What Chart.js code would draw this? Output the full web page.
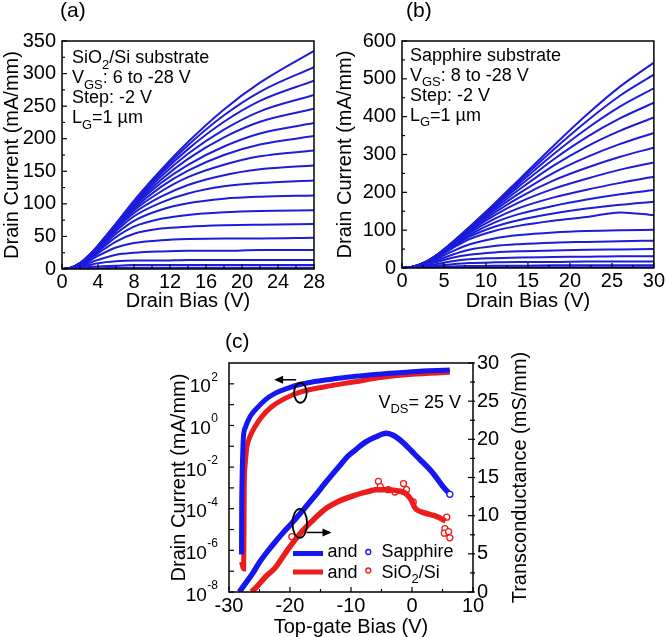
<!DOCTYPE html>
<html>
<head>
<meta charset="utf-8">
<script src="https://cdn.jsdelivr.net/npm/chart.js@4.4.0/dist/chart.umd.min.js"></script>
<style>
  body { margin: 0; background: #fff; width: 666px; height: 637px; overflow: hidden; position: relative; }
  canvas { position: absolute; }
</style>
</head>
<body>
<canvas id="chartA" width="333" height="313" style="left:0;top:0"></canvas>
<canvas id="chartB" width="333" height="313" style="left:333px;top:0"></canvas>
<canvas id="chartC" width="666" height="329" style="left:0;top:310px"></canvas>
<script>
// ---- (a) SiO2/Si substrate, VGS 6 to -28 V, step -2 V
const biasA = [0, 1, 2, 3, 4, 6, 8, 11, 14, 18, 22, 28];
const currentA = [
  [0, 2, 9, 21, 36, 70, 105, 152, 195, 245, 286, 335],
  [0, 2, 9, 21, 36, 69, 103, 149, 190, 236, 272, 310],
  [0, 2, 9, 21, 36, 69, 102, 146, 184, 226, 258, 289],
  [0, 2, 9, 20, 35, 68, 100, 142, 177, 214, 242, 267],
  [0, 2, 9, 20, 35, 67, 98, 137, 169, 202, 226, 246],
  [0, 2, 8, 20, 34, 66, 96, 132, 160, 188, 208, 224],
  [0, 2, 8, 19, 34, 65, 93, 126, 151, 175, 191, 204],
  [0, 2, 8, 19, 33, 63, 90, 119, 141, 160, 173, 182],
  [0, 2, 8, 18, 32, 61, 86, 111, 129, 144, 153, 159],
  [0, 2, 8, 18, 31, 58, 81, 102, 116, 127, 132, 136],
  [0, 2, 7, 17, 29, 54, 74, 91, 101, 108, 111, 113],
  [0, 2, 7, 16, 27, 49, 65, 77, 83, 87, 89, 90],
  [0, 1, 6, 14, 24, 42, 54, 62, 65, 67, 68, 69],
  [0, 1, 5, 12, 20, 33, 40, 44, 46, 47, 47, 48],
  [0, 1, 4, 9, 14, 22, 25, 27, 28, 28, 29, 29],
  [0, 1, 3, 6, 9, 12, 13, 13, 14, 14, 14, 14],
  [0, 0, 1, 3, 4, 5, 6, 6, 6, 6, 6, 6],
  [0, 0, 0, 1, 1, 2, 2, 2, 2, 2, 2, 2]
];

// ---- (b) Sapphire substrate, VGS 8 to -28 V, step -2 V
const biasB = [0, 1, 2, 3, 4, 6, 8, 11, 14, 18, 22, 26, 30];
const currentB = [
  [0, 2, 8, 18, 32, 68, 108, 170, 235, 322, 405, 480, 543],
  [0, 2, 8, 18, 32, 68, 107, 168, 230, 312, 388, 456, 511],
  [0, 2, 8, 18, 32, 67, 106, 165, 224, 300, 368, 427, 475],
  [0, 2, 8, 18, 32, 67, 105, 162, 217, 286, 346, 396, 437],
  [0, 2, 8, 18, 31, 66, 103, 157, 208, 270, 321, 363, 398],
  [0, 2, 8, 18, 31, 65, 101, 152, 198, 251, 293, 328, 357],
  [0, 2, 8, 17, 30, 64, 99, 146, 187, 231, 265, 294, 318],
  [0, 2, 8, 17, 30, 62, 96, 139, 174, 209, 236, 260, 279],
  [0, 2, 7, 17, 29, 60, 92, 130, 159, 186, 207, 225, 241],
  [0, 2, 7, 16, 28, 58, 87, 120, 143, 164, 181, 195, 206],
  [0, 2, 7, 16, 27, 55, 82, 109, 127, 144, 157, 167, 175],
  [0, 2, 7, 15, 26, 52, 76, 98, 112, 125, 135, 147, 140],
  [0, 2, 6, 14, 23, 44, 62, 78, 87, 94, 98, 100, 101],
  [0, 1, 5, 12, 19, 35, 48, 58, 63, 67, 69, 71, 72],
  [0, 1, 4, 9, 15, 27, 35, 41, 44, 46, 48, 49, 50],
  [0, 1, 3, 6, 10, 18, 23, 26, 28, 29, 30, 31, 31],
  [0, 1, 2, 4, 6, 10, 13, 15, 16, 16, 17, 17, 17],
  [0, 0, 1, 2, 3, 4, 5, 6, 6, 7, 7, 7, 7],
  [0, 0, 0, 1, 1, 1, 2, 2, 2, 2, 2, 2, 2]
];

// ---- (c) transfer curves, VDS = 25 V
const gateIdSapphire = [-27.95, -27.92, -27.85, -27.75, -27.65, -27.27, -26.56, -25.46, -24.1, -22.46, -19.72, -17.0, -14.26, -11, -9.3, -5.5, 0, 6.2];
const idSapphire = [6.3e-7, 1e-4, 3.2e-3, 4e-2, 0.24, 0.87, 2.6, 6.6, 16.6, 34.7, 72, 112, 151, 200, 229, 288, 380, 457];
const gateIdSiO2 = [-27.95, -27.6, -27.54, -27.5, -27.35, -27.1, -26.56, -25.74, -24.64, -23.0, -20.8, -18.1, -14.26, -11, -9.3, -5.5, 0, 6.2];
const idSiO2 = [2.8e-7, 1.26e-7, 1e-5, 1e-3, 1.26e-2, 7.9e-2, 0.29, 0.87, 2.6, 7.9, 20, 41.7, 72.4, 105, 126, 195, 288, 355];

const gateGmSapphire = [-28.3, -27.5, -26, -25, -23, -21, -19.5, -18, -16, -14.3, -12, -10.5, -9.3, -7.7, -6, -4.2, -3, -1.5, 0, 1.5, 3.2, 5, 6.2];
const gmSapphire = [0, 0.9, 2.6, 3.9, 6.0, 7.9, 9.2, 10.6, 12.5, 14.2, 16.4, 17.8, 18.6, 19.6, 20.3, 20.8, 20.5, 19.6, 18.4, 17.2, 15.8, 13.9, 12.8];
const gateGmSiO2 = [-26.3, -25.2, -24, -22.5, -20.5, -18.1, -16, -14, -12, -9.3, -7, -6, -4, -2, -1, 0, 0.5, 1.5, 2.7, 4.0, 5.5];
const gmSiO2 = [0, 0.9, 2.0, 3.1, 5.4, 7.9, 9.6, 11.0, 11.9, 12.7, 13.2, 13.4, 13.4, 13.2, 12.9, 11.9, 11.0, 10.5, 10.2, 9.9, 9.3];
// scattered SiO2/Si points off the main trace
const gateGmSiO2Scatter = [-19.7, -5.5, -5.2, -3.9, -2.8, -1.4, -0.9, 0.2, 5.7, 5.4, 5.3, 6.0, 6.2];
const gmSiO2Scatter = [7.25, 14.5, 13.8, 13.4, 13.1, 14.2, 13.4, 11.8, 9.8, 8.3, 7.7, 7.9, 7.1];

const FONT = '"Liberation Sans", Arial, sans-serif';
const BLUE_AB = "rgb(28,28,218)";
const BLUE = "rgb(22,22,240)";
const RED = "rgb(236,28,28)";

Chart.defaults.font.family = FONT;
Chart.defaults.color = "#000";

function pts(xs, ys) {
  return ys.map((v, i) => ({ x: xs[i], y: v }));
}

function range(a, b, step) {
  const out = [];
  for (let v = a; v <= b + 1e-9; v += step) out.push(v);
  return out;
}

function richText(ctx, parts, x, y, size) {
  let cx = x;
  for (const [t, mode] of parts) {
    const s = mode ? size * 0.72 : size;
    ctx.font = s + "px " + FONT;
    const dy = mode === "sub" ? size * 0.3 : mode === "sup" ? -size * 0.42 : 0;
    ctx.fillText(t, cx, y + dy);
    cx += ctx.measureText(t).width;
  }
  return cx;
}

// box + inward ticks
const frame = {
  id: "frame",
  afterDatasetsDraw(chart, args, o) {
    const { ctx, chartArea: a } = chart;
    const line = (x1, y1, x2, y2) => { ctx.beginPath(); ctx.moveTo(x1, y1); ctx.lineTo(x2, y2); ctx.stroke(); };
    ctx.save();
    ctx.strokeStyle = "#000";
    ctx.lineWidth = 1.5;
    ctx.strokeRect(a.left, a.top, a.right - a.left, a.bottom - a.top);
    ctx.lineWidth = 1.2;
    const sx = chart.scales.x, sy = chart.scales.y, sy1 = chart.scales.y1;
    for (const [vals, len] of [[o.xMajor || [], 5], [o.xMinor || [], 3]])
      for (const v of vals) { const p = sx.getPixelForValue(v); line(p, a.bottom, p, a.bottom - len); }
    for (const [vals, len] of [[o.yMajor || [], 5], [o.yMinor || [], 3]])
      for (const v of vals) { const p = sy.getPixelForValue(v); line(a.left, p, a.left + len, p); }
    if (sy1) {
      for (const [vals, len] of [[o.y1Major || [], 5], [o.y1Minor || [], 3]])
        for (const v of vals) { const p = sy1.getPixelForValue(v); line(a.right - len, p, a.right + 2, p); }
    }
    ctx.restore();
  }
};

// in-plot text and marks
const notes = {
  id: "notes",
  afterDraw(chart, args, o) {
    const ctx = chart.ctx;
    ctx.save();
    ctx.fillStyle = "#000";
    ctx.textAlign = "left";
    ctx.textBaseline = "alphabetic";
    for (const n of o.items || []) richText(ctx, n.parts, n.x, n.y, n.size);
    if (o.extra) o.extra(chart, ctx);
    ctx.restore();
  }
};

function fixedAxis(w, h) {
  return (scale) => {
    if (w !== undefined) scale.width = w;
    if (h !== undefined) scale.height = h;
  };
}

function outputChart(id, bias, family, opts) {
  return new Chart(document.getElementById(id), {
    type: "line",
    data: {
      datasets: family.map((row) => ({
        data: pts(bias, row),
        borderColor: BLUE_AB,
        borderWidth: 2,
        pointRadius: 0,
        cubicInterpolationMode: "monotone",
        fill: false
      }))
    },
    options: {
      responsive: false,
      animation: false,
      devicePixelRatio: 1,
      layout: { padding: opts.padding },
      plugins: {
        legend: { display: false },
        tooltip: { enabled: false },
        frame: opts.frame,
        notes: { items: opts.notes }
      },
      scales: {
        x: {
          type: "linear", min: 0, max: opts.xMax,
          grid: { display: false, drawTicks: false },
          border: { display: false },
          ticks: { stepSize: opts.xStep, font: { size: 20 }, padding: 1, maxRotation: 0 },
          title: { display: true, text: "Drain Bias (V)", font: { size: 20 }, padding: 0 },
          afterFit: fixedAxis(undefined, opts.xHeight)
        },
        y: {
          min: 0, max: opts.yMax,
          grid: { display: false, drawTicks: false },
          border: { display: false },
          ticks: { stepSize: opts.yStep, font: { size: 20 }, padding: 6 },
          title: { display: true, text: "Drain Current (mA/mm)", font: { size: 20 }, padding: 0 },
          afterFit: fixedAxis(opts.yWidth)
        }
      }
    },
    plugins: [frame, notes]
  });
}

outputChart("chartA", biasA, currentA, {
  xMax: 28, xStep: 4, yMax: 350, yStep: 50,
  padding: { left: 0, top: 41, right: 19, bottom: 0 },
  xHeight: 44, yWidth: 62,
  frame: { xMajor: range(0, 28, 4), xMinor: range(2, 26, 4), yMajor: range(0, 350, 50), yMinor: range(25, 325, 50) },
  notes: [
    { x: 60, y: 16.5, size: 21, parts: [["(a)"]] },
    { x: 72, y: 63.3, size: 18, parts: [["SiO"], ["2", "sub"], ["/Si substrate"]] },
    { x: 72, y: 83.3, size: 18, parts: [["V"], ["GS", "sub"], [": 6 to -28 V"]] },
    { x: 72, y: 103.3, size: 18, parts: [["Step: -2 V"]] },
    { x: 72, y: 123.3, size: 18, parts: [["L"], ["G", "sub"], ["=1 µm"]] }
  ]
});

outputChart("chartB", biasB, currentB, {
  xMax: 30, xStep: 5, yMax: 600, yStep: 100,
  padding: { left: 0, top: 41, right: 11, bottom: 0 },
  xHeight: 45, yWidth: 69,
  frame: { xMajor: range(0, 30, 5), xMinor: range(2.5, 27.5, 5), yMajor: range(0, 600, 100), yMinor: range(50, 550, 100) },
  notes: [
    { x: 73, y: 16.5, size: 21, parts: [["(b)"]] },
    { x: 77, y: 61, size: 18, parts: [["Sapphire substrate"]] },
    { x: 77, y: 81, size: 18, parts: [["V"], ["GS", "sub"], [": 8 to -28 V"]] },
    { x: 77, y: 101, size: 18, parts: [["Step: -2 V"]] },
    { x: 77, y: 121, size: 18, parts: [["L"], ["G", "sub"], ["=1 µm"]] }
  ]
});

function drawArrow(ctx, x1, y, x2) {
  const dir = Math.sign(x2 - x1);
  ctx.beginPath(); ctx.moveTo(x1, y); ctx.lineTo(x2 - dir * 6, y); ctx.stroke();
  ctx.beginPath();
  ctx.moveTo(x2, y); ctx.lineTo(x2 - dir * 9, y - 4); ctx.lineTo(x2 - dir * 9, y + 4);
  ctx.closePath(); ctx.fill();
}

function transferExtras(chart, ctx) {
  const { x, y, y1 } = chart.scales;
  const a = chart.chartArea;
  // log-axis labels 10^n
  ctx.textBaseline = "alphabetic";
  for (const e of [-8, -6, -4, -2, 0, 2]) {
    const py = y.getPixelForValue(Math.pow(10, e));
    ctx.font = "12px " + FONT;
    const ew = ctx.measureText(String(e)).width;
    const ex = a.left - 11 - ew;
    ctx.fillText(String(e), ex, py - 3);
    ctx.font = "19px " + FONT;
    const bw = ctx.measureText("10").width;
    ctx.fillText("10", ex - bw - 0.5, py + 8.5);
  }
  // right axis title, reading upward
  ctx.save();
  ctx.translate(520, (a.top + a.bottom) / 2);
  ctx.rotate(-Math.PI / 2);
  ctx.font = "20px " + FONT;
  ctx.textAlign = "center";
  ctx.textBaseline = "middle";
  ctx.fillText("Transconductance (mS/mm)", 0, 0);
  ctx.restore();

  // ellipses + arrows
  ctx.strokeStyle = "#000";
  ctx.fillStyle = "#000";
  ctx.lineWidth = 1.8;
  ctx.beginPath();
  ctx.ellipse(x.getPixelForValue(-18.3), y1.getPixelForValue(26.1), 6.3, 10, 0, 0, Math.PI * 2);
  ctx.stroke();
  ctx.beginPath();
  ctx.ellipse(x.getPixelForValue(-18.4), y1.getPixelForValue(9.0), 7.3, 14.5, 0, 0, Math.PI * 2);
  ctx.stroke();
  ctx.lineWidth = 1.5;
  drawArrow(ctx, x.getPixelForValue(-19.0), y1.getPixelForValue(27.8), x.getPixelForValue(-22.6));
  drawArrow(ctx, x.getPixelForValue(-17.3), y1.getPixelForValue(7.8), x.getPixelForValue(-13.2));

  // legend
  const rows = [
    { c: BLUE, y: 243.5, base: 247, parts: [["Sapphire"]] },
    { c: RED, y: 262, base: 268, parts: [["SiO"], ["2", "sub"], ["/Si"]] }
  ];
  for (const r of rows) {
    ctx.strokeStyle = r.c;
    ctx.lineWidth = 5;
    ctx.beginPath(); ctx.moveTo(293, r.y); ctx.lineTo(323, r.y); ctx.stroke();
    ctx.lineWidth = 1.3;
    ctx.beginPath(); ctx.arc(368.3, r.y - 1.5, 2.5, 0, Math.PI * 2); ctx.stroke();
    ctx.fillStyle = "#000";
    richText(ctx, [["and"]], 327.5, r.base, 18);
    richText(ctx, r.parts, 381.5, r.base, 18);
  }
}

new Chart(document.getElementById("chartC"), {
  type: "line",
  data: {
    datasets: [
      { data: pts(gateIdSapphire, idSapphire), yAxisID: "y", borderColor: BLUE, borderWidth: 5, pointRadius: 0, cubicInterpolationMode: "monotone" },
      { data: pts(gateIdSiO2, idSiO2), yAxisID: "y", borderColor: RED, borderWidth: 5, pointRadius: 0, cubicInterpolationMode: "monotone" },
      {
        data: pts(gateGmSapphire, gmSapphire), yAxisID: "y1", borderColor: BLUE, borderWidth: 5.5,
        pointRadius: (c) => (c.dataIndex === gmSapphire.length - 1 ? 3 : 0),
        pointBackgroundColor: "#fff", pointBorderColor: BLUE, pointBorderWidth: 1.3,
        cubicInterpolationMode: "monotone"
      },
      { data: pts(gateGmSiO2, gmSiO2), yAxisID: "y1", borderColor: RED, borderWidth: 5.5, pointRadius: 0, cubicInterpolationMode: "monotone" },
      {
        data: pts(gateGmSiO2Scatter, gmSiO2Scatter), yAxisID: "y1", showLine: false,
        pointRadius: 3, pointBackgroundColor: "#fff", pointBorderColor: RED, pointBorderWidth: 1.3
      }
    ]
  },
  options: {
    responsive: false,
    animation: false,
    devicePixelRatio: 1,
    layout: { padding: { left: 167, top: 53, right: 134, bottom: 0 } },
    plugins: {
      legend: { display: false },
      tooltip: { enabled: false },
      frame: {
        xMajor: range(-30, 10, 10), xMinor: range(-25, 5, 10),
        yMajor: [-8, -7, -6, -5, -4, -3, -2, -1, 0, 1, 2].map((e) => Math.pow(10, e)),
        y1Major: range(0, 30, 5), y1Minor: range(2.5, 27.5, 5)
      },
      notes: {
        items: [
          { x: 225, y: 37.5, size: 21, parts: [["(c)"]] },
          { x: 378.5, y: 98, size: 18, parts: [["V"], ["DS", "sub"], ["= 25 V"]] }
        ],
        extra: transferExtras
      }
    },
    scales: {
      x: {
        type: "linear", min: -30, max: 10,
        grid: { display: false, drawTicks: false },
        border: { display: false },
        ticks: { stepSize: 10, font: { size: 20 }, padding: 2, maxRotation: 0 },
        title: { display: true, text: "Top-gate Bias (V)", font: { size: 20 }, padding: 0 },
        afterFit: fixedAxis(undefined, 47)
      },
      y: {
        type: "logarithmic", position: "left", min: 1e-8, max: 1e3,
        grid: { display: false, drawTicks: false },
        border: { display: false },
        ticks: { display: false },
        title: { display: true, text: "Drain Current (mA/mm)", font: { size: 20 }, padding: 0 },
        afterFit: fixedAxis(62)
      },
      y1: {
        type: "linear", position: "right", min: 0, max: 30,
        grid: { display: false, drawTicks: false },
        border: { display: false },
        ticks: { stepSize: 5, font: { size: 20 }, padding: 4 },
        title: { display: false },
        afterFit: fixedAxis(59)
      }
    }
  },
  plugins: [frame, notes]
});
</script>
</body>
</html>
